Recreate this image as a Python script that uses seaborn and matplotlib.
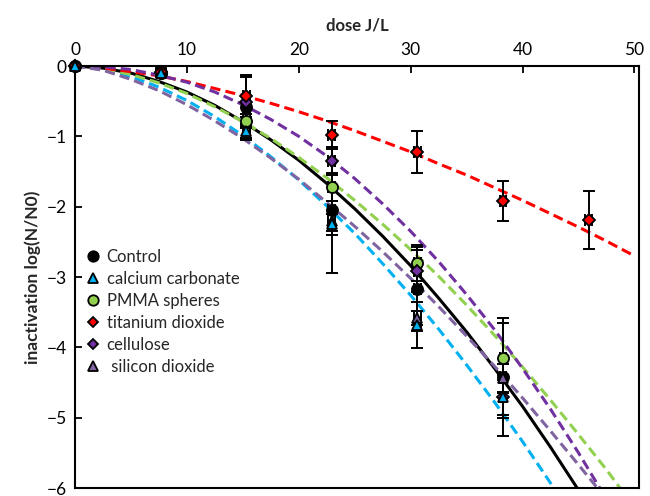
import numpy as np
import pandas as pd
import matplotlib
matplotlib.use("Agg")
import matplotlib.pyplot as plt
import seaborn as sns
from matplotlib.lines import Line2D

# ---------------- data ----------------
series = ["Control", "calcium carbonate", "PMMA spheres", "titanium dioxide",
          "cellulose", " silicon dioxide"]

dose = [0, 7.65, 15.3, 22.95, 30.6, 38.25]
dose_tio2 = [0, 7.65, 15.3, 22.95, 30.6, 38.25, 45.9]

control = [0, -0.10, -0.58, -2.05, -3.17, -4.42]
calcium = [0, -0.10, -0.93, -2.25, -3.68, -4.70]
pmma = [0, -0.10, -0.78, -1.72, -2.80, -4.15]
tio2 = [0, -0.08, -0.43, -0.98, -1.22, -1.92, -2.19]
cellulose = [0, -0.10, -0.51, -1.35, -2.91, -4.71]
silicon = [0, -0.10, -0.95, -2.20, -3.58, -4.43]

err_control = [0, 0.05, 0.44, 0.90, 0.60, 0.84]
err_calcium = [0, 0.05, 0.10, 0.15, 0.33, 0.30]
err_pmma = [0, 0.05, 0.10, 0.20, 0.25, 0.50]
err_tio2 = [0, 0.05, 0.30, 0.20, 0.30, 0.28, 0.41]
err_cellulose = [0, 0.05, 0.35, 0.20, 0.30, 0.25]
err_silicon = [0, 0.05, 0.10, 0.15, 0.10, 0.20]
xerr_dose = [0, 0.3, 0.3, 0.3, 0.3, 0.3, 0.3]

# fitted curves
curve_dose = [0, 2.5, 5, 7.5, 10, 12.5, 15, 17.5, 20, 22.5, 25, 27.5, 30,
              32.5, 35, 37.5, 40, 42.5, 45, 47.5, 50]
fit_control = [0, -0.03, -0.10, -0.22, -0.37, -0.56, -0.79, -1.05, -1.34, -1.67,
               -2.03, -2.42, -2.84, -3.30, -3.78, -4.30, -4.84, -5.42, -6.03]
fit_calcium = [0, -0.05, -0.15, -0.30, -0.49, -0.72, -0.99, -1.29, -1.62, -1.99,
               -2.38, -2.81, -3.26, -3.74, -4.25, -4.78, -5.34, -5.93, -6.54]
fit_pmma = [0, -0.04, -0.12, -0.24, -0.39, -0.58, -0.79, -1.03, -1.30, -1.59,
            -1.91, -2.25, -2.61, -2.99, -3.40, -3.83, -4.28, -4.75, -5.24, -5.74, -6.28]
fit_tio2 = [0, -0.03, -0.08, -0.14, -0.22, -0.32, -0.42, -0.53, -0.65, -0.78,
            -0.92, -1.07, -1.22, -1.39, -1.55, -1.73, -1.91, -2.10, -2.29, -2.49, -2.70]
fit_cellulose = [0, -0.01, -0.05, -0.13, -0.23, -0.37, -0.55, -0.76, -1.00, -1.28,
                 -1.60, -1.96, -2.35, -2.78, -3.25, -3.75, -4.30, -4.88, -5.50, -6.16]
fit_silicon = [0, -0.06, -0.19, -0.35, -0.55, -0.78, -1.03, -1.31, -1.61, -1.94,
               -2.28, -2.64, -3.02, -3.42, -3.84, -4.27, -4.72, -5.19, -5.67, -6.16]

colors = {"Control": "#000000", "calcium carbonate": "#00B0F0",
          "PMMA spheres": "#92D050", "titanium dioxide": "#FF0000",
          "cellulose": "#7030A0", " silicon dioxide": "#8064A2"}
markers = {"Control": "o", "calcium carbonate": "^", "PMMA spheres": "o",
           "titanium dioxide": "D", "cellulose": "D", " silicon dioxide": "^"}
msizes = {"Control": 8, "calcium carbonate": 7, "PMMA spheres": 8,
          "titanium dioxide": 6, "cellulose": 6, " silicon dioxide": 7}

# ---------------- style ----------------
sns.set_theme(style="white")
plt.rcParams["font.family"] = ["Lato", "DejaVu Sans"]

fig = plt.figure(figsize=(6.5, 4.96), dpi=100)
ax = fig.add_axes([0.1154, 0.0161, 0.8676, 0.8508])

# ---------------- curves ----------------
fits = [fit_control, fit_calcium, fit_pmma, fit_tio2, fit_cellulose, fit_silicon]
rows = []
for name, vals in zip(series, fits):
    for d, v in zip(curve_dose[:len(vals)], vals):
        rows.append({"dose": d, "logr": v, "series": name})
curves = pd.DataFrame(rows)
dash_map = {s: (3.3, 1.7) for s in series}
dash_map["Control"] = ""
sns.lineplot(data=curves, x="dose", y="logr", hue="series", style="series",
             palette=colors, dashes=dash_map, linewidth=2.2, legend=False,
             ax=ax, sort=True, estimator=None)

# ---------------- points ----------------
pts = [(dose, control, err_control, "Control"),
       (dose, calcium, err_calcium, "calcium carbonate"),
       (dose, pmma, err_pmma, "PMMA spheres"),
       (dose_tio2, tio2, err_tio2, "titanium dioxide"),
       (dose, cellulose, err_cellulose, "cellulose"),
       (dose, silicon, err_silicon, " silicon dioxide")]
order = [0, 2, 4, 3, 5, 1]
for i in order:
    xd, yd, ye, name = pts[i]
    xe = xerr_dose[:len(xd)]
    ax.errorbar(xd, yd, yerr=ye, xerr=xe, fmt="none", ecolor="black",
                elinewidth=1.4, capsize=4, capthick=1.4, zorder=5, clip_on=False)
for i in order:
    xd, yd, ye, name = pts[i]
    ax.plot(xd, yd, linestyle="none", marker=markers[name], ms=msizes[name],
            mfc=colors[name], mec="black", mew=1.3, zorder=6, clip_on=False)

# ---------------- axes ----------------
ax.set_xlim(0, 50.4)
ax.set_ylim(-6, 0)
ax.set_xticks([0, 10, 20, 30, 40, 50])
ax.set_yticks([0, -1, -2, -3, -4, -5, -6])
ax.xaxis.tick_top()
ax.xaxis.set_label_position("top")
ax.tick_params(axis="x", direction="in", length=5, width=1.3, labelsize=12.5,
               pad=6, colors="black", top=True, bottom=False)
ax.tick_params(axis="y", direction="in", length=5, width=1.3, labelsize=12.5,
               pad=6, colors="black", left=True, right=False)
for sp in ax.spines.values():
    sp.set_visible(True)
    sp.set_color("black")
    sp.set_linewidth(1.5)
ax.set_xlabel("dose J/L", fontsize=12, fontweight="bold", labelpad=8)
ax.set_ylabel("inactivation log(N/N0)", fontsize=12.5, fontweight="bold", labelpad=4)
ax.grid(False)

handles = [Line2D([], [], linestyle="none", marker=markers[s], ms=msizes[s] - 0.5,
                  mfc=colors[s], mec="black", mew=1.3) for s in series]
leg = ax.legend(handles, series, loc="upper left", bbox_to_anchor=(0.0, 0.595),
                frameon=False, fontsize=12, handlelength=0.8, handletextpad=0.4,
                labelspacing=0.36, borderaxespad=0.3)

fig.savefig("out.png", dpi=100)
